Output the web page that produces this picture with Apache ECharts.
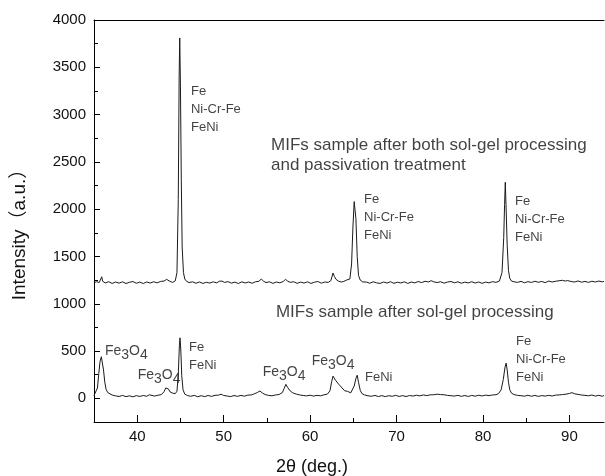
<!DOCTYPE html>
<html>
<head>
<meta charset="utf-8">
<script src="https://cdn.jsdelivr.net/npm/echarts@6/dist/echarts.min.js"></script>
<style>
  html, body { margin: 0; padding: 0; background: #fff; }
  #xrd { width: 605px; height: 476px; }
</style>
</head>
<body>
<div id="xrd"></div>
<script>
// 2θ positions and counts
const thetaTop = [35.0,35.3,35.6,35.8,35.9,36.0,36.3,36.7,37.1,37.5,37.9,38.3,38.7,39.1,39.5,39.9,40.3,40.7,41.1,41.5,41.9,42.3,42.7,43.1,43.4,43.6,43.8,44.1,44.4,44.6,44.75,44.85,44.92,45.0,45.1,45.2,45.35,45.5,45.7,46.0,46.4,46.8,47.2,47.6,48.0,48.4,48.8,49.2,49.5,49.65,49.8,50.1,50.5,50.9,51.3,51.7,52.1,52.5,52.9,53.3,53.7,54.1,54.35,54.6,54.9,55.3,55.7,56.1,56.5,56.9,57.15,57.4,57.7,58.1,58.5,58.9,59.3,59.7,60.1,60.5,60.9,61.3,61.7,62.1,62.4,62.65,62.8,63.0,63.3,63.6,63.9,64.2,64.35,64.6,64.8,64.95,65.1,65.2,65.3,65.45,65.6,65.8,66.1,66.5,66.9,67.3,67.7,68.1,68.5,68.9,69.3,69.7,70.1,70.5,70.9,71.3,71.7,72.1,72.5,72.9,73.3,73.7,74.0,74.3,74.7,75.1,75.5,75.9,76.3,76.7,77.1,77.5,77.9,78.3,78.7,79.1,79.5,79.9,80.3,80.7,81.1,81.5,81.9,82.2,82.4,82.5,82.58,82.68,82.8,82.95,83.1,83.3,83.6,84.0,84.4,84.8,85.2,85.6,86.0,86.4,86.8,87.2,87.6,88.0,88.4,88.8,89.2,89.5,89.8,90.2,90.6,91.0,91.4,91.8,92.2,92.6,93.0,93.4,93.8,94.0];
const countsTop = [1222,1234,1224,1242,1285,1238,1220,1233,1215,1230,1218,1232,1214,1227,1235,1217,1229,1214,1231,1219,1233,1221,1236,1240,1258,1250,1236,1226,1242,1330,2100,3400,3810,3300,2300,1600,1330,1262,1238,1224,1232,1217,1230,1215,1227,1219,1232,1221,1238,1256,1240,1226,1234,1218,1229,1214,1232,1220,1230,1217,1233,1238,1262,1240,1224,1232,1216,1230,1221,1236,1258,1240,1226,1233,1216,1229,1219,1232,1215,1228,1235,1218,1230,1226,1245,1325,1290,1258,1238,1230,1236,1250,1246,1262,1420,1800,2080,2100,1900,1500,1300,1250,1230,1230,1217,1232,1221,1215,1230,1219,1233,1216,1228,1220,1232,1215,1230,1221,1235,1224,1238,1230,1244,1232,1224,1233,1218,1230,1235,1222,1232,1217,1229,1220,1233,1219,1230,1216,1229,1221,1234,1226,1240,1330,1700,2050,2285,2000,1620,1350,1270,1240,1232,1226,1237,1222,1234,1225,1238,1227,1236,1223,1240,1230,1238,1243,1248,1240,1245,1235,1230,1241,1228,1236,1226,1238,1230,1240,1232,1236];

const thetaBottom = [35.0,35.2,35.4,35.55,35.7,35.85,35.95,36.1,36.25,36.4,36.6,36.8,37.1,37.5,37.9,38.3,38.7,39.1,39.5,39.9,40.3,40.7,41.1,41.4,41.6,42.0,42.4,42.8,43.1,43.3,43.45,43.6,43.8,44.1,44.4,44.6,44.75,44.88,44.95,45.05,45.15,45.3,45.5,45.8,46.2,46.6,47.0,47.4,47.8,48.2,48.6,49.0,49.4,49.7,50.0,50.4,50.8,51.2,51.6,52.0,52.4,52.8,53.2,53.6,53.9,54.2,54.5,54.8,55.2,55.6,56.0,56.4,56.8,57.0,57.2,57.4,57.7,58.0,58.4,58.8,59.2,59.6,60.0,60.4,60.8,61.2,61.6,62.0,62.3,62.5,62.65,62.8,62.95,63.1,63.3,63.45,63.6,63.8,64.0,64.15,64.3,64.5,64.7,64.9,65.1,65.3,65.45,65.6,65.8,66.0,66.3,66.7,67.1,67.5,67.9,68.3,68.7,69.1,69.5,69.9,70.3,70.7,71.1,71.5,71.9,72.3,72.7,73.1,73.5,73.9,74.3,74.7,75.1,75.5,75.9,76.3,76.7,77.1,77.5,77.9,78.3,78.7,79.1,79.5,79.9,80.3,80.7,81.1,81.5,81.8,82.1,82.35,82.55,82.68,82.8,82.95,83.1,83.3,83.6,84.0,84.4,84.8,85.2,85.6,86.0,86.4,86.8,87.2,87.6,88.0,88.4,88.8,89.2,89.6,90.0,90.3,90.6,91.0,91.4,91.8,92.2,92.6,93.0,93.4,93.8,94.0];
const countsBottom = [30,45,110,260,390,440,420,300,170,95,60,42,35,26,20,31,18,27,16,29,20,30,22,38,28,24,33,40,70,110,125,100,68,55,50,75,250,560,640,500,240,90,45,30,22,31,17,28,18,30,21,32,34,44,30,25,18,30,21,31,23,34,36,50,62,78,55,40,31,27,36,40,62,105,148,115,78,58,45,36,30,26,33,24,32,27,37,45,80,180,235,215,190,175,150,160,120,105,80,95,75,60,58,70,130,210,245,170,85,50,36,27,22,31,19,29,18,28,22,32,20,29,19,30,24,33,26,36,29,37,38,44,40,38,31,28,24,32,21,30,20,31,23,33,25,34,29,36,38,50,90,200,330,372,300,170,90,55,40,31,28,23,33,22,31,21,29,24,32,25,34,36,40,44,52,60,48,42,35,32,27,35,24,32,22,30];

// axis tick values
const xLabels = [40, 50, 60, 70, 80, 90];
const xMinor = [45, 55, 65, 75, 85];
const yLabels = [0, 500, 1000, 1500, 2000, 2500, 3000, 3500, 4000];
const yMinor = [250, 750, 1250, 1750, 2250, 2750, 3250, 3750];

// phase labels: text, 2θ of its left edge, intensity of its middle
const notes = [
  ['Fe\nNi-Cr-Fe\nFeNi', 46.22, 3059],
  ['{t|MIFs sample after both sol-gel processing}\n{t|and passivation treatment}', 55.48, 2572],
  ['Fe\nNi-Cr-Fe\nFeNi', 66.24, 1912],
  ['Fe\nNi-Cr-Fe\nFeNi', 83.7, 1891],
  ['{t|MIFs sample after sol-gel processing}', 56.05, 906],
  ['{f|Fe}{s|3}{f|O}{s|4}', 36.27, 500],
  ['{f|Fe}{s|3}{f|O}{s|4}', 40.06, 247],
  ['Fe\nFeNi', 45.99, 445],
  ['{f|Fe}{s|3}{f|O}{s|4}', 54.52, 279],
  ['{f|Fe}{s|3}{f|O}{s|4}', 60.18, 395],
  ['FeNi', 66.35, 223],
  ['Fe\nNi-Cr-Fe\nFeNi', 83.82, 409]
];

const FONT = 'Liberation Sans, Arial, sans-serif';
const chart = echarts.init(document.getElementById('xrd'));

const hidden = { show: false };
const plain = v => String(v);
const baseX = { type: 'value', min: 35, max: 94, splitLine: hidden };
const baseY = { type: 'value', min: -250, max: 4000, splitLine: hidden };

const option = {
  animation: false,
  backgroundColor: '#fff',
  grid: { left: 94, right: 1, top: 20, bottom: 54, containLabel: false, outerBoundsMode: 'none' },
  xAxis: [
    Object.assign({}, baseX, {
      position: 'bottom',
      axisLine: { onZero: false, lineStyle: { color: '#000', width: 1 } },
      axisTick: { inside: true, length: 7, customValues: xLabels, lineStyle: { color: '#000' } },
      axisLabel: { customValues: xLabels, formatter: plain, margin: 7, color: '#111', fontSize: 15, fontFamily: FONT }
    }),
    Object.assign({}, baseX, {
      position: 'bottom',
      axisLine: { show: false, onZero: false },
      axisTick: { inside: true, length: 4, customValues: xMinor, lineStyle: { color: '#000' } },
      axisLabel: hidden
    }),
    Object.assign({}, baseX, {
      position: 'top',
      axisLine: { onZero: false, lineStyle: { color: '#000', width: 1 } },
      axisTick: hidden,
      axisLabel: hidden
    })
  ],
  yAxis: [
    Object.assign({}, baseY, {
      position: 'left',
      axisLine: { onZero: false, lineStyle: { color: '#000', width: 1 } },
      axisTick: { inside: true, length: 6, customValues: yLabels, lineStyle: { color: '#000' } },
      axisLabel: { customValues: yLabels, formatter: plain, margin: 8, color: '#111', fontSize: 15, fontFamily: FONT }
    }),
    Object.assign({}, baseY, {
      position: 'left',
      axisLine: { show: false, onZero: false },
      axisTick: { inside: true, length: 4, customValues: yMinor, lineStyle: { color: '#000' } },
      axisLabel: hidden
    })
  ],
  graphic: [
    {
      type: 'text', x: 312, y: 467,
      style: { text: '2θ (deg.)', fontSize: 18, fontFamily: FONT, fill: '#111',
        textAlign: 'center', textVerticalAlign: 'middle', align: 'center', verticalAlign: 'middle' }
    },
    {
      type: 'text', x: 20, y: 230, rotation: Math.PI / 2,
      style: { text: 'Intensity（a.u.）', fontSize: 19, fontFamily: 'Liberation Sans, Noto Sans CJK SC, sans-serif', fill: '#111',
        textAlign: 'center', textVerticalAlign: 'middle', align: 'center', verticalAlign: 'middle' }
    }
  ],
  series: [
    {
      name: 'both', type: 'line', xAxisIndex: 0, yAxisIndex: 0,
      showSymbol: false, symbol: 'none',
      lineStyle: { color: '#1a1a1a', width: 1 },
      data: thetaTop.map((t, i) => [t, countsTop[i]])
    },
    {
      name: 'solgel', type: 'line', xAxisIndex: 0, yAxisIndex: 0,
      showSymbol: false, symbol: 'none',
      lineStyle: { color: '#1a1a1a', width: 1 },
      data: thetaBottom.map((t, i) => [t, countsBottom[i]])
    },
    {
      name: 'notes', type: 'scatter', xAxisIndex: 0, yAxisIndex: 0,
      symbolSize: 0, silent: true,
      label: {
        show: true, position: 'right', distance: 0,
        formatter: p => p.name,
        color: '#111', fontSize: 13, lineHeight: 18, fontFamily: FONT,
        rich: {
          t: { fontSize: 17, lineHeight: 20, fontFamily: FONT, color: '#111' },
          f: { fontSize: 14, fontFamily: FONT, color: '#111' },
          s: { fontSize: 14, fontFamily: FONT, color: '#111', padding: [8, 0, 0, 0] }
        }
      },
      data: notes.map(n => ({ name: n[0], value: [n[1], n[2]] }))
    }
  ]
};

chart.setOption(option);
</script>
</body>
</html>
